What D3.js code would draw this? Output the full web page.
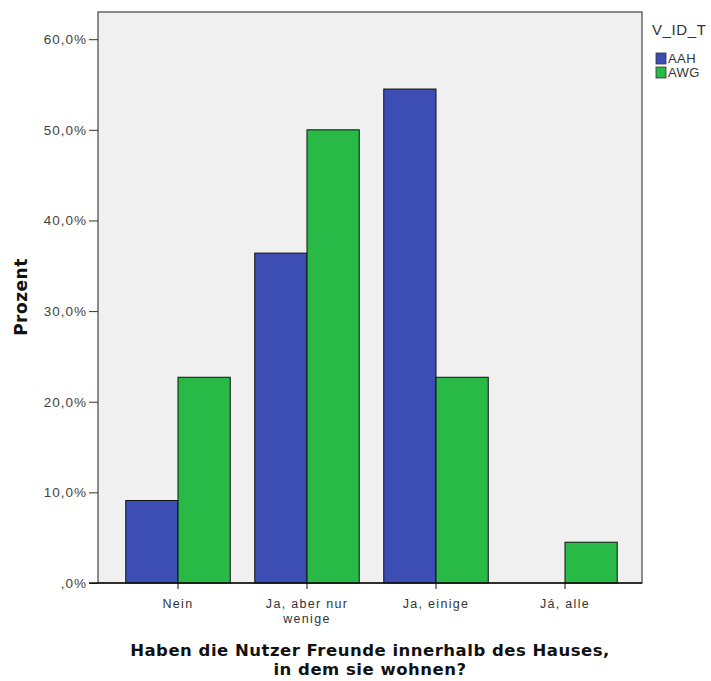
<!DOCTYPE html>
<html><head><meta charset="utf-8">
<script src="https://cdn.jsdelivr.net/npm/d3@7"></script>
<style>
html,body{margin:0;padding:0;background:#fff;overflow:hidden}
svg{display:block}
</style></head>
<body>
<svg id="chart" width="711" height="681"></svg>
<script>
const categories = [["Nein"], ["Ja, aber nur", "wenige"], ["Ja, einige"], ["Já, alle"]];
const categoryKeys = ["Nein", "Ja, aber nur wenige", "Ja, einige", "Já, alle"];
const seriesNames = ["AAH", "AWG"];
const valuesAAH = [9.1, 36.4, 54.5, 0.0];
const valuesAWG = [22.7, 50.0, 22.7, 4.5];
const yTicks = [0, 10, 20, 30, 40, 50, 60];
const yTickLabels = [",0%", "10,0%", "20,0%", "30,0%", "40,0%", "50,0%", "60,0%"];
const colors = ["#3c4eb4", "#29b946"];
const legendTitle = "V_ID_T";
const yTitle = "Prozent";
const xTitle = ["Haben die Nutzer Freunde innerhalb des Hauses,", "in dem sie wohnen?"];

const svg = d3.select("#chart");
const frame = {left: 98, right: 642, top: 12, bottom: 583};
const sans = "Liberation Sans, Arial, sans-serif";
const wide = "DejaVu Sans, Verdana, sans-serif";

const x0 = d3.scaleBand().domain(categoryKeys).range([113.5, 629.5]).paddingInner(0.19).paddingOuter(0.095);
const x1 = d3.scaleBand().domain(seriesNames).range([0, x0.bandwidth()]);
const y = d3.scaleLinear().domain([0, 63]).range([frame.bottom, frame.top]);

// plot background
svg.append("rect").attr("x", frame.left).attr("y", frame.top)
  .attr("width", frame.right - frame.left).attr("height", frame.bottom - frame.top)
  .attr("fill", "#f0f0f0").attr("stroke", "#444").attr("stroke-width", 1.2);

const data = categoryKeys.map((c, i) => ({cat: c, vals: [valuesAAH[i], valuesAWG[i]]}));
const g = svg.append("g");
data.forEach(d => {
  d.vals.forEach((v, j) => {
    if (v <= 0) return;
    g.append("rect")
      .attr("x", x0(d.cat) + x1(seriesNames[j]))
      .attr("y", y(v))
      .attr("width", x1.bandwidth())
      .attr("height", y(0) - y(v))
      .attr("fill", colors[j]).attr("stroke", "#111").attr("stroke-width", 1);
  });
});

// y axis
const yAxis = d3.axisLeft(y).tickValues(yTicks).tickSize(9).tickPadding(2)
  .tickFormat((d, i) => yTickLabels[i]);
const ya = svg.append("g").attr("transform", `translate(${frame.left},0)`).call(yAxis);
ya.select(".domain").remove();
ya.selectAll("line").attr("stroke", "#333");
ya.selectAll("text").attr("font-family", sans).attr("font-size", 13.5)
  .attr("letter-spacing", 1).attr("fill", "#444");

// x axis
const xAxis = d3.axisBottom(x0).tickSize(6).tickFormat("");
const xa = svg.append("g").attr("transform", `translate(0,${frame.bottom})`).call(xAxis);
xa.select(".domain").remove();
xa.selectAll("line").attr("stroke", "#111");
svg.append("line").attr("x1", frame.left - 9).attr("x2", frame.right)
  .attr("y1", frame.bottom).attr("y2", frame.bottom).attr("stroke", "#111").attr("stroke-width", 1.5);

categories.forEach((lines, i) => {
  const cx = x0(categoryKeys[i]) + x0.bandwidth() / 2;
  lines.forEach((line, k) => {
    svg.append("text").attr("x", cx).attr("y", 608 + k * 14.5)
      .attr("text-anchor", "middle").attr("font-family", sans)
      .attr("font-size", 12.5).attr("letter-spacing", 1.3).attr("fill", "#333").text(line);
  });
});

// titles
svg.append("text").attr("transform", "translate(27,297) rotate(-90)")
  .attr("text-anchor", "middle").attr("font-family", wide)
  .attr("font-weight", "bold").attr("font-size", 17).attr("letter-spacing", 0.5)
  .attr("fill", "#111").text(yTitle);
xTitle.forEach((line, k) => {
  svg.append("text").attr("text-anchor", "middle").attr("x", 370).attr("y", 656 + k * 19)
    .attr("font-family", wide).attr("font-weight", "bold")
    .attr("font-size", 16.5).attr("letter-spacing", 0.5).attr("fill", "#111").text(line);
});

// legend
svg.append("text").attr("x", 652).attr("y", 35).attr("font-family", sans)
  .attr("font-size", 15).attr("letter-spacing", 0.6).attr("fill", "#333").text(legendTitle);
seriesNames.forEach((s, i) => {
  svg.append("rect").attr("x", 656).attr("y", 53 + i * 14).attr("width", 10).attr("height", 11)
    .attr("fill", colors[i]).attr("stroke", "#333").attr("stroke-width", 0.8);
  svg.append("text").attr("x", 668).attr("y", 63 + i * 14).attr("font-family", sans)
    .attr("font-size", 13).attr("letter-spacing", 0.4).attr("fill", "#333").text(s);
});
</script>
</body></html>
